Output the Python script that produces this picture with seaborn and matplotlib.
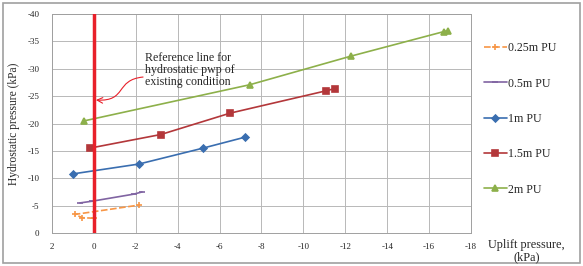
import numpy as np
import pandas as pd
import matplotlib
matplotlib.use("Agg")
import matplotlib.pyplot as plt
from matplotlib.patches import FancyArrowPatch
from matplotlib.path import Path
import seaborn as sns

# uplift pressure (x) and hydrostatic pressure (y), both in kPa
pu025_x = [0.0, 0.55, 0.9, -2.15]
pu025_y = [-2.7, -2.8, -3.4, -5.1]

pu05_x = [0.66, 0.1, -1.9, -2.3]
pu05_y = [-5.5, -5.8, -7.1, -7.5]

pu1_x = [1.0, -2.15, -5.2, -7.2]
pu1_y = [-10.8, -12.6, -15.5, -17.5]

pu15_x = [0.2, -3.2, -6.5, -11.1, -11.5]
pu15_y = [-15.5, -18.0, -21.9, -26.0, -26.4]

pu2_x = [0.45, -7.45, -12.25, -16.7, -16.9]
pu2_y = [-20.5, -27.1, -32.3, -36.8, -37.0]

labels = ["0.25m PU", "0.5m PU", "1m PU", "1.5m PU", "2m PU"]

sns.set_style("white")
plt.rcParams["font.family"] = ["Liberation Serif", "DejaVu Serif"]
plt.rcParams["axes.unicode_minus"] = False

fig = plt.figure(figsize=(5.83, 2.66), dpi=100)
ax = fig.add_axes([0.089, 0.124, 0.719, 0.823])

series = [
    (pu025_x, pu025_y, "+", "#F79646", (0, (4, 1.5)), 5),
    (pu05_x, pu05_y, "_", "#8064A2", "-", 5),
    (pu1_x, pu1_y, "D", "#3A6EB0", "-", 3.5),
    (pu15_x, pu15_y, "s", "#B3373A", "-", 5),
    (pu2_x, pu2_y, "^", "#8DB04A", "-", 5),
]
for (xs, ys, mk, col, ls, ms), lab in zip(series, labels):
    df = pd.DataFrame({"x": xs, "y": ys})
    sns.lineplot(data=df, x="x", y="y", sort=False, ax=ax, color=col,
                 marker=mk, markersize=ms, markeredgecolor=col,
                 markeredgewidth=1.2, linestyle=ls, linewidth=1.2, label=lab)

# reference line for existing condition
ax.axvline(0, color="#E8202A", linewidth=2.5, zorder=5)

ax.set_xlim(2, -18)
ax.set_ylim(0, -40)
ax.set_xticks(np.arange(2, -19, -2))
ax.set_yticks(np.arange(0, -41, -5))
ax.tick_params(length=0, labelsize=6.5, pad=7)
ax.tick_params(axis="y", pad=9)
ax.grid(True, color="#b8b8b8", linewidth=0.7)
for s in ax.spines.values():
    s.set_color("#a0a0a0")
    s.set_linewidth(0.7)

ax.set_xlabel("")
ax.set_ylabel("Hydrostatic pressure (kPa)", fontsize=8.3, labelpad=5)
fig.text(0.903, 0.1, "Uplift pressure,\n(kPa)", fontsize=8.8,
         ha="center", va="top", linespacing=1.0)

ax.text(-2.45, -29.8, "Reference line for\nhydrostatic pwp of\nexisting condition",
        fontsize=8.6, ha="left", va="center", linespacing=1.0)
arrow_path = Path([(-2.35, -28.5), (-1.0, -28.0), (-1.6, -24.0), (-0.1, -24.3)],
                  [Path.MOVETO, Path.CURVE4, Path.CURVE4, Path.CURVE4])
ax.add_patch(FancyArrowPatch(path=arrow_path, arrowstyle="->", color="#E8202A",
                             lw=0.8, mutation_scale=10, zorder=6))

ax.legend(loc="upper left", bbox_to_anchor=(1.005, 0.92), frameon=False,
          fontsize=8.6, labelspacing=1.95, handlelength=1.9,
          handletextpad=0.15)

fig.patches.append(plt.Rectangle((0.005, 0.01), 0.99, 0.98,
                                 transform=fig.transFigure, fill=False,
                                 edgecolor="#a0a0a0", linewidth=1.2))

fig.savefig("out.png", dpi=100)
